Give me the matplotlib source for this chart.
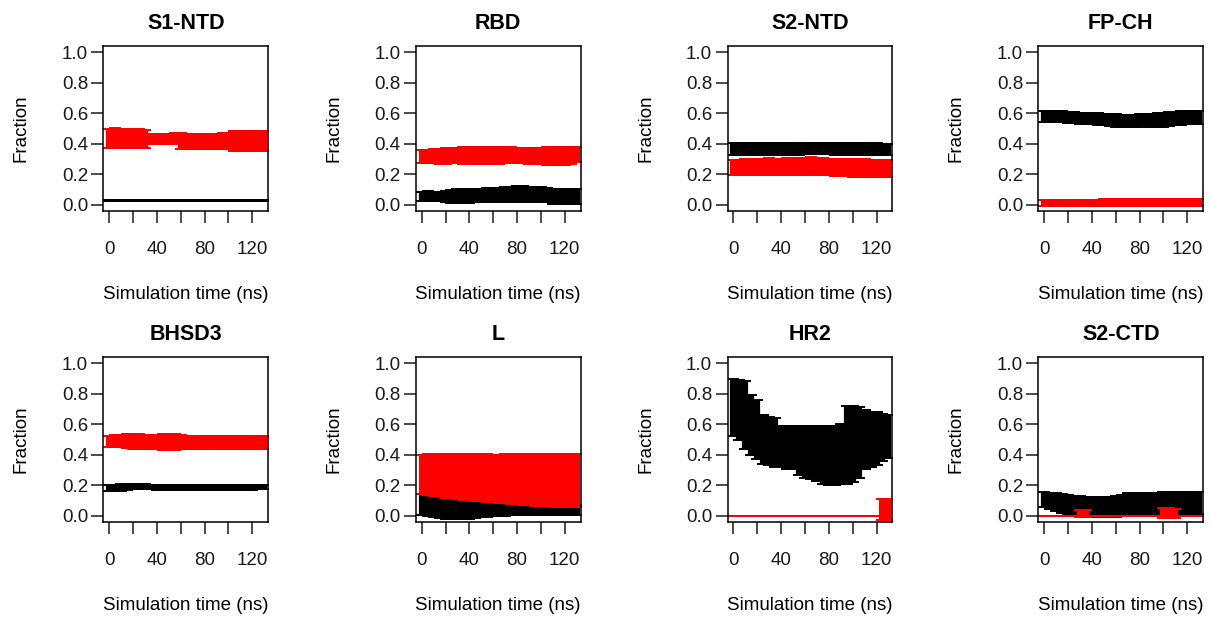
import matplotlib
matplotlib.use("Agg")
import matplotlib.pyplot as plt

plt.rcParams['font.family'] = ['Liberation Sans', 'DejaVu Sans']

# time points (ns)
t_ns = [0, 5, 10, 15, 20, 25, 30, 35, 40, 45, 50, 55, 60, 65, 70,
        75, 80, 85, 90, 95, 100, 105, 110, 115, 120, 125, 130]

titles = ["S1-NTD", "RBD", "S2-NTD", "FP-CH", "BHSD3", "L", "HR2", "S2-CTD"]
yticks = [0.0, 0.2, 0.4, 0.6, 0.8, 1.0]
xticks = [0, 20, 40, 60, 80, 100, 120]
xtick_labels = ["0", "", "40", "", "80", "", "120"]

# S1-NTD
s1ntd_black_mean = [0.026, 0.026, 0.026, 0.026, 0.026, 0.026, 0.026, 0.026, 0.026,
                    0.026, 0.026, 0.026, 0.026, 0.026, 0.026, 0.026, 0.026, 0.026,
                    0.026, 0.026, 0.026, 0.026, 0.026, 0.026, 0.026, 0.026, 0.026]
s1ntd_black_err = [0.003, 0.003, 0.003, 0.003, 0.003, 0.003, 0.003, 0.003, 0.003,
                   0.003, 0.003, 0.003, 0.003, 0.003, 0.003, 0.003, 0.003, 0.003,
                   0.003, 0.003, 0.003, 0.003, 0.003, 0.003, 0.003, 0.003, 0.003]
s1ntd_red_mean = [0.435, 0.437, 0.436, 0.434, 0.435, 0.433, 0.432, 0.433, 0.434,
                  0.433, 0.432, 0.433, 0.418, 0.417, 0.416, 0.417, 0.416, 0.415,
                  0.416, 0.417, 0.418, 0.42, 0.421, 0.42, 0.419, 0.42, 0.42]
s1ntd_red_err = [0.063, 0.064, 0.064, 0.063, 0.062, 0.062, 0.06, 0.034, 0.033,
                 0.033, 0.034, 0.035, 0.05, 0.05, 0.049, 0.05, 0.051, 0.05,
                 0.05, 0.051, 0.052, 0.064, 0.065, 0.064, 0.065, 0.064, 0.065]

# RBD
rbd_black_mean = [0.056, 0.057, 0.056, 0.055, 0.054, 0.055, 0.056, 0.057, 0.058,
                  0.062, 0.064, 0.065, 0.066, 0.067, 0.069, 0.07, 0.072, 0.071,
                  0.07, 0.069, 0.068, 0.066, 0.056, 0.054, 0.053, 0.054, 0.055]
rbd_black_err = [0.031, 0.031, 0.03, 0.031, 0.034, 0.041, 0.046, 0.046, 0.045,
                 0.043, 0.043, 0.044, 0.045, 0.046, 0.047, 0.049, 0.05, 0.05,
                 0.049, 0.048, 0.047, 0.046, 0.047, 0.048, 0.047, 0.048, 0.047]
rbd_red_mean = [0.316, 0.317, 0.318, 0.318, 0.32, 0.321, 0.323, 0.324, 0.325,
                0.326, 0.325, 0.324, 0.324, 0.325, 0.326, 0.325, 0.323, 0.322,
                0.322, 0.321, 0.321, 0.32, 0.319, 0.318, 0.318, 0.322, 0.328]
rbd_red_err = [0.045, 0.045, 0.046, 0.048, 0.05, 0.05, 0.052, 0.054, 0.055,
               0.056, 0.055, 0.055, 0.054, 0.055, 0.055, 0.054, 0.052, 0.051,
               0.052, 0.053, 0.054, 0.057, 0.058, 0.059, 0.06, 0.055, 0.05]

# S2-NTD
s2ntd_black_mean = [0.364, 0.365, 0.366, 0.365, 0.364, 0.364, 0.366, 0.367, 0.366,
                    0.366, 0.365, 0.364, 0.366, 0.368, 0.369, 0.368, 0.366, 0.365,
                    0.364, 0.365, 0.366, 0.365, 0.364, 0.363, 0.364, 0.363, 0.362]
s2ntd_black_err = [0.038, 0.039, 0.038, 0.037, 0.038, 0.038, 0.037, 0.036, 0.037,
                   0.038, 0.038, 0.037, 0.036, 0.034, 0.033, 0.034, 0.036, 0.037,
                   0.038, 0.038, 0.037, 0.038, 0.038, 0.037, 0.038, 0.037, 0.038]
s2ntd_red_mean = [0.245, 0.246, 0.247, 0.248, 0.249, 0.25, 0.25, 0.249, 0.25,
                  0.251, 0.252, 0.253, 0.254, 0.255, 0.253, 0.25, 0.248, 0.247,
                  0.245, 0.243, 0.242, 0.241, 0.24, 0.238, 0.237, 0.236, 0.237]
s2ntd_red_err = [0.05, 0.051, 0.052, 0.052, 0.053, 0.053, 0.054, 0.054, 0.053,
                 0.053, 0.054, 0.055, 0.056, 0.056, 0.055, 0.054, 0.054, 0.055,
                 0.056, 0.056, 0.057, 0.058, 0.058, 0.058, 0.057, 0.056, 0.056]

# FP-CH
fpch_black_mean = [0.58, 0.58, 0.579, 0.578, 0.575, 0.57, 0.566, 0.564, 0.563,
                   0.562, 0.56, 0.556, 0.552, 0.55, 0.55, 0.551, 0.553, 0.555,
                   0.555, 0.556, 0.556, 0.56, 0.565, 0.57, 0.572, 0.573, 0.572]
fpch_black_err = [0.036, 0.037, 0.037, 0.036, 0.036, 0.036, 0.037, 0.037, 0.036,
                  0.037, 0.037, 0.038, 0.04, 0.04, 0.04, 0.04, 0.04, 0.041,
                  0.042, 0.043, 0.044, 0.045, 0.045, 0.044, 0.044, 0.043, 0.042]
fpch_red_mean = [0.013, 0.012, 0.012, 0.013, 0.013, 0.012, 0.012, 0.013, 0.013,
                 0.014, 0.014, 0.014, 0.014, 0.015, 0.015, 0.015, 0.015, 0.015,
                 0.015, 0.016, 0.016, 0.016, 0.016, 0.016, 0.015, 0.015, 0.015]
fpch_red_err = [0.022, 0.021, 0.021, 0.021, 0.02, 0.02, 0.021, 0.021, 0.021,
                0.021, 0.022, 0.022, 0.022, 0.022, 0.022, 0.022, 0.022, 0.023,
                0.023, 0.023, 0.024, 0.024, 0.024, 0.023, 0.023, 0.023, 0.023]

# BHSD3
bhsd3_black_mean = [0.183, 0.184, 0.186, 0.19, 0.192, 0.191, 0.19, 0.188, 0.187,
                    0.186, 0.186, 0.186, 0.186, 0.186, 0.186, 0.186, 0.186, 0.186,
                    0.186, 0.186, 0.186, 0.186, 0.186, 0.187, 0.187, 0.188, 0.188]
bhsd3_black_err = [0.022, 0.021, 0.02, 0.019, 0.018, 0.017, 0.016, 0.015, 0.015,
                   0.015, 0.015, 0.015, 0.015, 0.015, 0.015, 0.015, 0.015, 0.015,
                   0.015, 0.015, 0.015, 0.015, 0.015, 0.015, 0.015, 0.015, 0.015]
bhsd3_red_mean = [0.488, 0.49, 0.492, 0.49, 0.488, 0.487, 0.485, 0.484, 0.483,
                  0.484, 0.485, 0.484, 0.483, 0.482, 0.481, 0.481, 0.481, 0.482,
                  0.481, 0.48, 0.48, 0.481, 0.481, 0.48, 0.48, 0.481, 0.481]
bhsd3_red_err = [0.034, 0.037, 0.04, 0.045, 0.047, 0.047, 0.046, 0.045, 0.048,
                 0.05, 0.052, 0.05, 0.045, 0.042, 0.041, 0.04, 0.04, 0.04,
                 0.041, 0.042, 0.04, 0.04, 0.04, 0.04, 0.04, 0.04, 0.04]

# L
l_black_mean = [0.075, 0.072, 0.07, 0.062, 0.058, 0.055, 0.05, 0.048, 0.047,
                0.045, 0.045, 0.044, 0.044, 0.043, 0.042, 0.042, 0.041, 0.041,
                0.041, 0.04, 0.04, 0.04, 0.04, 0.04, 0.039, 0.039, 0.039]
l_black_err = [0.07, 0.07, 0.075, 0.078, 0.078, 0.075, 0.07, 0.068, 0.066,
               0.06, 0.055, 0.05, 0.045, 0.042, 0.04, 0.038, 0.036, 0.035,
               0.035, 0.034, 0.034, 0.034, 0.033, 0.033, 0.033, 0.033, 0.033]
l_red_mean = [0.272, 0.27, 0.268, 0.265, 0.262, 0.26, 0.257, 0.255, 0.253,
              0.252, 0.25, 0.248, 0.245, 0.243, 0.242, 0.242, 0.242, 0.24,
              0.238, 0.236, 0.235, 0.234, 0.233, 0.232, 0.232, 0.231, 0.231]
l_red_err = [0.128, 0.132, 0.135, 0.138, 0.142, 0.145, 0.148, 0.15, 0.152,
             0.153, 0.153, 0.154, 0.156, 0.158, 0.16, 0.163, 0.166, 0.167,
             0.168, 0.169, 0.17, 0.171, 0.172, 0.172, 0.173, 0.173, 0.173]

# HR2
hr2_black_mean = [0.71, 0.695, 0.66, 0.595, 0.565, 0.5, 0.49, 0.48, 0.455,
                  0.45, 0.45, 0.43, 0.42, 0.415, 0.41, 0.4, 0.395, 0.395,
                  0.405, 0.465, 0.47, 0.48, 0.5, 0.5, 0.505, 0.515, 0.52]
hr2_black_err = [0.186, 0.195, 0.22, 0.195, 0.195, 0.16, 0.16, 0.16, 0.135,
                 0.14, 0.14, 0.16, 0.17, 0.175, 0.18, 0.19, 0.195, 0.195,
                 0.195, 0.255, 0.25, 0.23, 0.19, 0.18, 0.175, 0.155, 0.14]
hr2_red_mean = [0.0, 0.0, 0.0, 0.0, 0.0, 0.0, 0.0, 0.0, 0.0,
                0.0, 0.0, 0.0, 0.0, 0.0, 0.0, 0.0, 0.0, 0.0,
                0.0, 0.0, 0.0, 0.0, 0.0, 0.0, 0.0, 0.04, 0.04]
hr2_red_err = [0.0, 0.0, 0.0, 0.0, 0.0, 0.0, 0.0, 0.0, 0.0,
               0.0, 0.0, 0.0, 0.0, 0.0, 0.0, 0.0, 0.0, 0.0,
               0.0, 0.0, 0.0, 0.0, 0.0, 0.0, 0.0, 0.07, 0.07]

# S2-CTD
s2ctd_black_mean = [0.108, 0.1, 0.09, 0.08, 0.075, 0.068, 0.062, 0.06, 0.06,
                    0.06, 0.06, 0.06, 0.062, 0.07, 0.08, 0.082, 0.083, 0.083,
                    0.083, 0.084, 0.084, 0.084, 0.084, 0.085, 0.085, 0.085, 0.085]
s2ctd_black_err = [0.05, 0.052, 0.058, 0.062, 0.062, 0.064, 0.066, 0.066, 0.066,
                   0.065, 0.065, 0.065, 0.066, 0.07, 0.068, 0.068, 0.068, 0.068,
                   0.068, 0.069, 0.07, 0.07, 0.07, 0.07, 0.07, 0.07, 0.07]
s2ctd_red_mean = [0.0, 0.0, 0.0, 0.0, 0.0, 0.0, 0.015, 0.015, 0.0,
                  0.0, 0.0, 0.0, 0.0, 0.0, 0.0, 0.0, 0.0, 0.0,
                  0.0, 0.0, 0.017, 0.017, 0.017, 0.0, 0.0, 0.0, 0.0]
s2ctd_red_err = [0.0, 0.0, 0.0, 0.0, 0.0, 0.0, 0.025, 0.025, 0.0,
                 0.0, 0.0, 0.0, 0.0, 0.0, 0.0, 0.0, 0.0, 0.0,
                 0.0, 0.0, 0.032, 0.032, 0.03, 0.0, 0.0, 0.0, 0.0]

black_means = [s1ntd_black_mean, rbd_black_mean, s2ntd_black_mean, fpch_black_mean,
               bhsd3_black_mean, l_black_mean, hr2_black_mean, s2ctd_black_mean]
black_errs = [s1ntd_black_err, rbd_black_err, s2ntd_black_err, fpch_black_err,
              bhsd3_black_err, l_black_err, hr2_black_err, s2ctd_black_err]
red_means = [s1ntd_red_mean, rbd_red_mean, s2ntd_red_mean, fpch_red_mean,
             bhsd3_red_mean, l_red_mean, hr2_red_mean, s2ctd_red_mean]
red_errs = [s1ntd_red_err, rbd_red_err, s2ntd_red_err, fpch_red_err,
            bhsd3_red_err, l_red_err, hr2_red_err, s2ctd_red_err]

fig = plt.figure(figsize=(12.11, 6.17), dpi=100)
W, H = 1211.0, 617.0
lefts = [103.3, 415.7, 727.5, 1038.3]
tops = [46.0, 357.0]
box = 165.0


def draw_series(ax, mean, err, color):
    eb = ax.errorbar(t_ns, mean, yerr=err, fmt='none', ecolor=color,
                     elinewidth=4.5, capsize=4.3, capthick=1.4)
    for lc in eb[2]:
        lc.set_capstyle('butt')


for i in range(8):
    row, col = divmod(i, 4)
    ax = fig.add_axes([lefts[col] / W, 1 - (tops[row] + box) / H, box / W, box / H])
    draw_series(ax, black_means[i], black_errs[i], 'black')
    draw_series(ax, red_means[i], red_errs[i], 'red')
    ax.set_xlim(-5.0, 133.4)
    ax.set_ylim(-0.04, 1.04)
    ax.set_yticks(yticks)
    ax.set_yticklabels(["%.1f" % v for v in yticks])
    ax.set_xticks(xticks)
    ax.set_xticklabels(xtick_labels)
    ax.tick_params(axis='both', direction='out', length=8.5, width=1.1,
                   labelsize=13.5, colors='#1a1a1a')
    ax.tick_params(axis='x', pad=13)
    ax.tick_params(axis='y', pad=2.5)
    for s in ax.spines.values():
        s.set_linewidth(1.1)
    ax.set_title(titles[i], fontsize=15.5, fontweight='bold', pad=12)
    ax.set_xlabel("Simulation time (ns)", fontsize=13.5)
    ax.set_ylabel("Fraction", fontsize=13.5)
    ax.xaxis.set_label_coords(0.5, -0.455)
    ax.yaxis.set_label_coords(-0.445, 0.5)

fig.savefig("out.png", dpi=100)
